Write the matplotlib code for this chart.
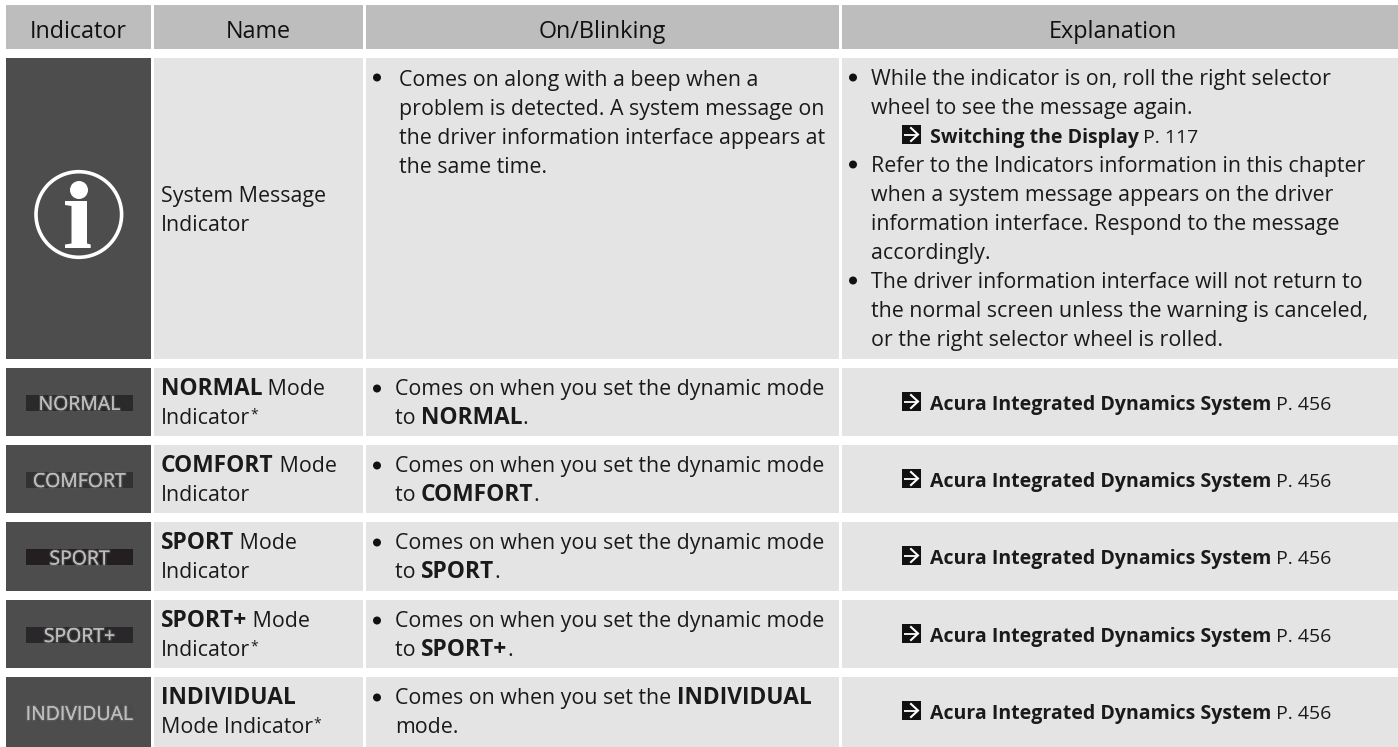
import matplotlib
matplotlib.use('Agg')
import matplotlib.pyplot as plt
import matplotlib.patheffects as pe
from matplotlib.patches import Rectangle, Circle, Polygon

W, H = 1398, 747
FONT = 'Open Sans'
FS = 15.4
FS_BOLD = 16.4
FS_HEAD = 16.8
FS_REF = 14.0

headers = ['Indicator', 'Name', 'On/Blinking', 'Explanation']
lamp_labels = ['', 'NORMAL', 'COMFORT', 'SPORT', 'SPORT+', 'INDIVIDUAL']
lamp_strip = ['', '#2a2a2b', '#333233', '#231f20', '#292729', '#4a4a4a']

# each line is a list of (text, style) runs: 0 regular, 1 bold, 2 small star
names = [
    [[('System Message', 0)], [('Indicator', 0)]],
    [[('NORMAL', 1), (' Mode', 0)], [('Indicator', 0), ('*', 2)]],
    [[('COMFORT', 1), (' Mode', 0)], [('Indicator', 0)]],
    [[('SPORT', 1), (' Mode', 0)], [('Indicator', 0)]],
    [[('SPORT+', 1), (' Mode', 0)], [('Indicator', 0), ('*', 2)]],
    [[('INDIVIDUAL', 1)], [('Mode Indicator', 0), ('*', 2)]],
]
blinking = [
    [[('Comes on along with a beep when a', 0)], [('problem is detected. A system message on', 0)],
     [('the driver information interface appears at', 0)], [('the same time.', 0)]],
    [[('Comes on when you set the dynamic mode', 0)], [('to ', 0), ('NORMAL', 1), ('.', 0)]],
    [[('Comes on when you set the dynamic mode', 0)], [('to ', 0), ('COMFORT', 1), ('.', 0)]],
    [[('Comes on when you set the dynamic mode', 0)], [('to ', 0), ('SPORT', 1), ('.', 0)]],
    [[('Comes on when you set the dynamic mode', 0)], [('to ', 0), ('SPORT+', 1), ('.', 0)]],
    [[('Comes on when you set the ', 0), ('INDIVIDUAL', 1)], [('mode.', 0)]],
]
explain_first = [
    ['While the indicator is on, roll the right selector', 'wheel to see the message again.'],
    ['Refer to the Indicators information in this chapter', 'when a system message appears on the driver',
     'information interface. Respond to the message', 'accordingly.'],
    ['The driver information interface will not return to', 'the normal screen unless the warning is canceled,',
     'or the right selector wheel is rolled.'],
]
switch_ref = [('Switching the Display', 3), (' P. 117', 4)]
dyn_ref = [('Acura Integrated Dynamics System', 3), (' P. 456', 4)]

# layout in pixels
col_l = [6, 154, 366, 842]
col_r = [151, 363, 839, 1398]
head_y = (5, 49)
row_y = [(58, 359), (368, 436), (445, 513), (522, 591), (600, 668), (677, 747)]
LINE = 29

fig = plt.figure(figsize=(W / 100, H / 100), dpi=100)
ax = fig.add_axes([0, 0, 1, 1])
ax.set_xlim(0, W)
ax.set_ylim(H, 0)
ax.axis('off')
rend = fig.canvas.get_renderer()

style_kw = {
    0: dict(fontsize=FS, fontweight='normal'),
    1: dict(fontsize=FS_BOLD, fontweight='bold'),
    2: dict(fontsize=10, fontweight='normal'),
    3: dict(fontsize=FS_REF, fontweight='bold'),
    4: dict(fontsize=FS_REF, fontweight='normal'),
}


def runs(x, y, parts, color='#1a1a1a'):
    for txt, style in parts:
        dy = -6 if style == 2 else 0
        t = ax.text(x, y + dy, txt, family=FONT, color=color, va='baseline', ha='left', **style_kw[style])
        x += t.get_window_extent(rend).width
    return x


def bullet(x, y):
    ax.add_patch(Circle((x, y), 4, color='#111111', lw=0))


def arrow_box(x, y):
    ax.add_patch(Rectangle((x, y - 18), 18.5, 19, color='#111111', lw=0))
    ax.plot([x + 2, x + 15], [y - 8.5, y - 8.5], color='white', lw=1.3, solid_capstyle='butt')
    ax.plot([x + 9, x + 16, x + 9], [y - 15, y - 8.5, y - 2], color='white', lw=1.5, solid_joinstyle='miter')


for i, h in enumerate(headers):
    ax.add_patch(Rectangle((col_l[i], head_y[0]), col_r[i] - col_l[i], head_y[1] - head_y[0], color='#bdbdbd', lw=0))
    cx = 1113 if i == 3 else (col_l[i] + col_r[i]) / 2
    ax.text(cx, 37.5, h, family=FONT, fontsize=FS_HEAD, color='#111111', ha='center', va='baseline')

for r, (y0, y1) in enumerate(row_y):
    ax.add_patch(Rectangle((col_l[0], y0), col_r[0] - col_l[0], y1 - y0, color='#4d4d4d', lw=0))
    for i in (1, 2, 3):
        ax.add_patch(Rectangle((col_l[i], y0), col_r[i] - col_l[i], y1 - y0, color='#e4e4e4', lw=0))

    if r == 0:
        name_base = 202
        blink_base = 86
        x_blink = 399
        bullet(377, 77.5)
    else:
        name_base = y0 + 27
        blink_base = y0 + 27
        x_blink = 395
        bullet(377, y0 + 20.5)
    for k, line in enumerate(names[r]):
        runs(161, name_base + k * LINE, line)
    for k, line in enumerate(blinking[r]):
        runs(x_blink, blink_base + k * LINE, line)

    if r > 0:
        cy = (y0 + y1) / 2 + 0.5
        ax.add_patch(Rectangle((26, cy - 8), 107, 16, color=lamp_strip[r], lw=0))
        t = ax.text(79.5, cy + 0.5, lamp_labels[r], family=FONT, fontsize=14, color='#bdbdbd', ha='center',
                    va='center_baseline')
        t.set_path_effects([pe.withStroke(linewidth=2, foreground='#707070', alpha=0.4), pe.Normal()])
        arrow_box(902, y0 + 42)
        runs(929.5, y0 + 42, dyn_ref)

# big info lamp in the first row
ax.add_patch(Circle((78.8, 214.5), 42.8, fill=False, ec='white', lw=2.6))
ax.add_patch(Circle((79, 190), 9, color='white', lw=0))
ax.add_patch(Polygon([(65, 201), (87, 201), (87, 243.5), (90.7, 244.5), (90.7, 248), (65, 248), (65, 244.5),
                      (71.5, 243.5), (71.5, 206), (65, 205)], closed=True, color='white', lw=0))

# explanation cell, row one
base = 85
for g, group in enumerate(explain_first):
    bullet(853, base - 7.5)
    for line in group:
        runs(871, base, [(line, 0)])
        base += LINE
    if g == 0:
        arrow_box(902, base)
        runs(929.5, base, switch_ref)
        base += LINE

fig.savefig('out.png', dpi=100)
